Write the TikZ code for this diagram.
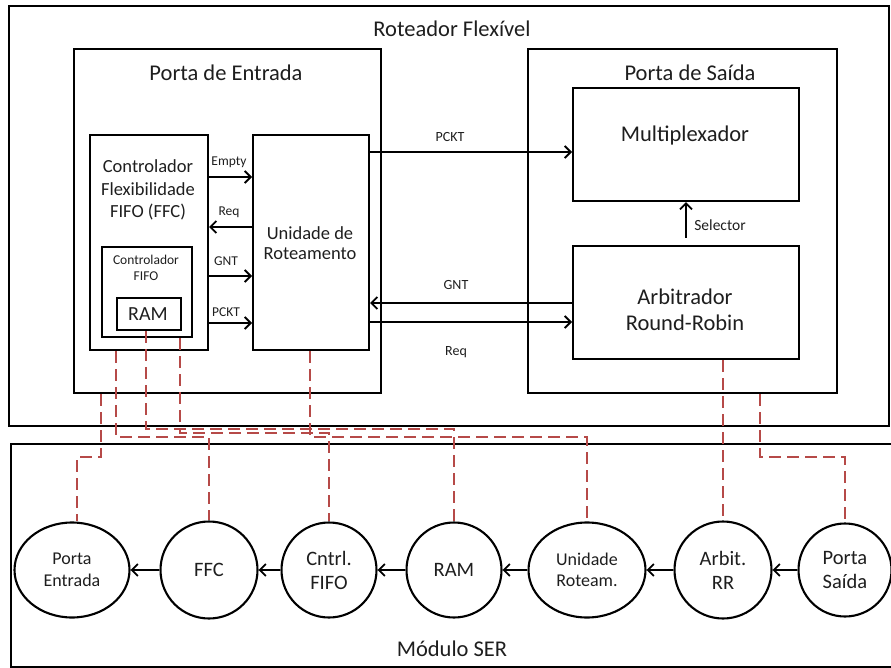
\documentclass[tikz,border=0pt]{standalone}
\usepackage{fontspec}
\setmainfont{Carlito}
\usetikzlibrary{arrows.meta,shapes.geometric}
\definecolor{serred}{RGB}{182,74,72}
\definecolor{txt}{RGB}{30,30,30}
\begin{document}
\begin{tikzpicture}[x=1pt,y=-1pt,
  box/.style={draw, line width=2.1pt, inner sep=0pt, anchor=north west},
  lbl/.style={inner sep=0pt, align=center, text=txt},
  big/.style={font=\fontsize{22.5}{26}\selectfont},
  mid/.style={font=\fontsize{18.5}{22.5}\selectfont},
  sig/.style={font=\fontsize{13.5}{16}\selectfont},
  arr/.style={line width=1.8pt, -{Straight Barb[length=6pt,width=12pt]}},
  serl/.style={draw=serred, line width=2.6pt, dash pattern=on 12pt off 6pt},
  circ/.style={draw, circle, line width=2.1pt, inner sep=0pt, align=center, text=txt},
  ell/.style={draw, ellipse, line width=2.1pt, inner sep=0pt, align=center, text=txt}
]
\useasboundingbox (0,0) rectangle (891,668);

% outer containers
\node[box, minimum width=880pt, minimum height=420pt] (rot) at (8,5) {};
\node[box, minimum width=890pt, minimum height=223pt] (ser) at (10,443) {};
\node[lbl, big] (trot) at (452,29) {Roteador Flexível};
\node[lbl, big] (tser) at (452,649) {Módulo SER};

% input port
\node[box, minimum width=307pt, minimum height=344pt] (pe) at (73,48) {};
\node[lbl, big] (tpe) at (226,73) {Porta de Entrada};
\node[box, minimum width=118pt, minimum height=215pt] (ffc) at (89,134) {};
\node[lbl, font=\fontsize{18.5}{22.5}\selectfont] (tffc) at (148,190) {Controlador\\Flexibilidade\\FIFO (FFC)};
\node[box, minimum width=90pt, minimum height=90pt] (cf) at (101,246) {};
\node[lbl, font=\fontsize{13.5}{16}\selectfont] (tcf) at (146,268) {Controlador\\FIFO};
\node[box, minimum width=64pt, minimum height=32pt] (ram) at (116,297) {};
\node[lbl, font=\fontsize{20}{24}\selectfont] (tram) at (148,314) {RAM};
\node[box, minimum width=116pt, minimum height=215pt] (ur) at (252,134) {};
\node[lbl, font=\fontsize{18.5}{20}\selectfont] (tur) at (310,243) {Unidade de\\Roteamento};

% output port
\node[box, minimum width=309pt, minimum height=344pt] (ps) at (527,48) {};
\node[lbl, big] (tps) at (690,73) {Porta de Saída};
\node[box, minimum width=226pt, minimum height=113pt] (mux) at (572,87) {};
\node[lbl, big] (tmux) at (685,136) {Multiplexador};
\node[box, minimum width=226pt, minimum height=113pt] (arb) at (572,245) {};
\node[lbl, font=\fontsize{22.5}{26}\selectfont] (tarb) at (685,310) {Arbitrador\\Round-Robin};

% signals inside input port
\draw[arr] (ffc.east |- 0,177) -- (ur.west |- 0,177);
\node[lbl, sig] (lempty) at (229,162) {Empty};
\draw[arr] (ur.west |- 0,227) -- (ffc.east |- 0,227);
\node[lbl, sig] (lreq1) at (229,212) {Req};
\draw[arr] (ffc.east |- 0,276) -- (ur.west |- 0,276);
\node[lbl, sig] (lgnt1) at (226,261) {GNT};
\draw[arr] (ffc.east |- 0,323) -- (ur.west |- 0,323);
\node[lbl, sig] (lpckt1) at (226,312) {PCKT};

% signals between ports
\draw[arr] (ur.east |- 0,152) -- (mux.west |- 0,152);
\node[lbl, font=\fontsize{14}{16}\selectfont] (lpckt2) at (450,137) {PCKT};
\draw[arr] (arb.west |- 0,303) -- (ur.east |- 0,303);
\node[lbl, font=\fontsize{14}{16}\selectfont] (lgnt2) at (456,285) {GNT};
\draw[arr] (ur.east |- 0,322) -- (arb.west |- 0,322);
\node[lbl, font=\fontsize{14}{16}\selectfont] (lreq2) at (456,352) {Req};
\draw[arr] ([yshift=7pt]arb.north) -- (mux.south);
\node[lbl, font=\fontsize{15.5}{18}\selectfont] (lsel) at (720,225) {Selector};

% SER module chain
\node[ell, minimum width=115pt, minimum height=95pt, font=\fontsize{18}{21.5}\selectfont] (c1) at (72,570) {Porta\\Entrada};
\node[circ, minimum size=97pt, font=\fontsize{20.5}{24}\selectfont] (c2) at (209,570) {FFC};
\node[circ, minimum size=95pt, font=\fontsize{20.5}{24}\selectfont] (c3) at (329,570) {Cntrl.\\FIFO};
\node[circ, minimum size=95pt, font=\fontsize{20.5}{24}\selectfont] (c4) at (454,570) {RAM};
\node[ell, minimum width=117pt, minimum height=95pt, font=\fontsize{18}{21.5}\selectfont] (c5) at (587,570) {Unidade\\Roteam.};
\node[circ, minimum size=97pt, font=\fontsize{20.5}{24}\selectfont] (c6) at (723,570) {Arbit.\\RR};
\node[circ, minimum size=93pt, font=\fontsize{20.5}{24}\selectfont] (c7) at (845,570) {Porta\\Saída};

\draw[arr] (c2) -- (c1);
\draw[arr] (c3) -- (c2);
\draw[arr] (c4) -- (c3);
\draw[arr] (c5) -- (c4);
\draw[arr] (c6) -- (c5);
\draw[arr] (c7) -- (c6);

% dashed SER links
\draw[serl] (pe.south -| 101,0) -- (101,457) -- (77,457) -- (c1.north -| 77,0);
\draw[serl] (ffc.south -| 116,0) -- (116,437) -- (209,437) -- (c2.north);
\draw[serl] (ram.south -| 146,0) -- (146,429) -- (454,429) -- (c4.north);
\draw[serl] (cf.south -| 180,0) -- (180,433) -- (329,433) -- (c3.north);
\draw[serl] (ur.south -| 310,0) -- (310,437) -- (587,437) -- (c5.north);
\draw[serl] (arb.south -| 723,0) -- (c6.north);
\draw[serl] (ps.south -| 760,0) -- (760,457) -- (845,457) -- (c7.north);
\end{tikzpicture}
\end{document}
